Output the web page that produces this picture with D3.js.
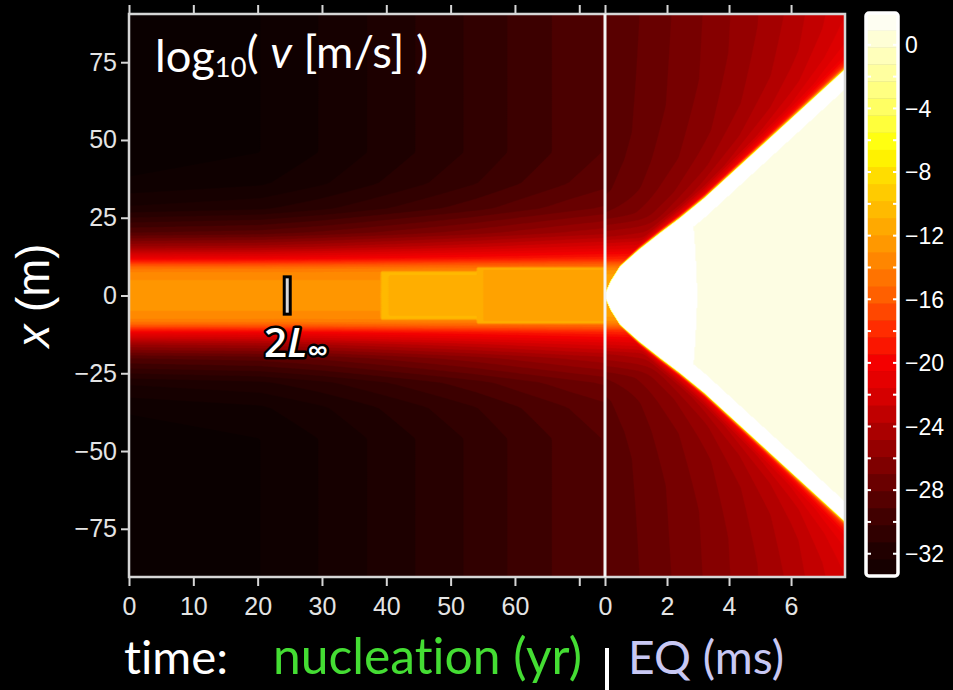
<!DOCTYPE html>
<html>
<head>
<meta charset="utf-8">
<script src="https://cdn.jsdelivr.net/npm/d3@7"></script>
<style>
  html, body { margin: 0; padding: 0; background: #000; }
  svg { display: block; }
  text { font-variant-ligatures: none; font-feature-settings: "liga" 0, "clig" 0; }
</style>
</head>
<body>
<svg id="chart" width="953" height="690"></svg>
<script>
// ---------- tick values ----------
const nucTicks = [0, 10, 20, 30, 40, 50, 60, 70];
const nucLabelled = [0, 10, 20, 30, 40, 50, 60];
const eqTicks = [0, 2, 4, 6];
const posTicks = [-75, -50, -25, 0, 25, 50, 75];
const cbLabelTicks = [0, -4, -8, -12, -16, -20, -24, -28, -32];
const cbMinorTicks = [0, -2, -4, -6, -8, -10, -12, -14, -16, -18, -20, -22, -24, -26, -28, -30, -32];

// ---------- nucleation phase (time in yr, position in m, log10 v) ----------
const nucTime = [0, 20.4, 30, 38, 46, 54, 61, 68.6, 74];
const nucFar = [-34.5, -34.0, -33.2, -32.4, -31.6, -30.8, -30.0, -29.2, -28.7];
const bandStart = [0, 39.3, 54];
const bandCore = [-13, -11.3, -11.8];
const bandHalfWidth = [9.5, 7.5, 9];
const bandRim = 0.7;          // brighter rim along the edge of each step
const profDist = [0, 5, 7, 8.5, 9.5, 10.5, 12, 15.5, 20, 28, 36, 46];
const profFrac = [1.03, 1.0, 0.98, 0.93, 0.86, 0.78, 0.64, 0.45, 0.27, 0.1, 0.03, 0];

// ---------- earthquake phase (time in ms) ----------
const eqTime = [0, 1, 2, 3, 4, 5, 6, 7, 7.74];
const eqFar = [-29, -28.4, -27.7, -27, -26.2, -25.4, -24.6, -23.6, -23];
const frontTime = [0, 0.2, 0.5, 1.1, 1.8, 2.4, 3.2, 4.9, 7.74];
const frontPos = [0, 4.5, 9.2, 14.5, 20, 24.5, 31, 46.5, 72.4];
const aheadDist = [0, 0.3, 0.8, 1.6, 3, 4.8, 10, 20, 40, 80];
const aheadFrac = [1, 0.6, 0.36, 0.22, 0.15, 0.1, 0.06, 0.03, 0.01, 0];
const frontPeak = 2.0;
const slipNearFront = 2.6;    // just behind the front
const slipInterior = 0.9;     // well behind the front, later times
const slipNearWidth = 6;      // m
const interiorPos = [0, 15, 30, 80];          // m
const interiorStart = [2.97, 2.9, 2.78, 2.7]; // ms

// ---------- colour map for log10 v ----------
const cmapStops = [-35, -34, -32, -30, -28, -26, -24, -22, -20, -18, -16, -14, -12, -10, -8, -6.5, -4, -2, 0, 1, 2];
const cmapColors = ["#060000", "#0c0000", "#1e0000", "#3a0000", "#600000", "#880000", "#b00000", "#d80000",
  "#f40000", "#ff2800", "#ff5a00", "#ff7f00", "#ffa000", "#ffbf00", "#ffe000", "#ffff00", "#ffff60",
  "#ffff99", "#ffffcc", "#fdfde6", "#ffffff"];
const color = d3.scaleLinear().domain(cmapStops).range(cmapColors).clamp(true).interpolate(d3.interpolateRgb);

const levelStep = 0.75;
const levels = d3.range(-35.5, 2.6, levelStep);

// ---------- layout ----------
const svg = d3.select("#chart");
const plot = { left: 129, right: 845, top: 14, bottom: 577, split: 605 };
const posDomain = [-90.5, 90.5];

const xNuc = d3.scaleLinear().domain([0, 74]).range([plot.left, plot.split]);
const xEq = d3.scaleLinear().domain([0, 7.74]).range([plot.split, plot.right]);
const y = d3.scaleLinear().domain(posDomain).range([plot.bottom, plot.top]);

// piecewise-linear lookups from the tabulated values
const farNuc = d3.scaleLinear().domain(nucTime).range(nucFar).clamp(true);
const profile = d3.scaleLinear().domain(profDist).range(profFrac).clamp(true);
const farEq = d3.scaleLinear().domain(eqTime).range(eqFar).clamp(true);
const front = d3.scaleLinear().domain(frontTime).range(frontPos).clamp(true);
const ahead = d3.scaleLinear().domain(aheadDist).range(aheadFrac).clamp(true);
const interior = d3.scaleLinear().domain(interiorPos).range(interiorStart).clamp(true);

function bandIndex(t) {
  let k = 0;
  for (let i = 0; i < bandStart.length; i++) if (t >= bandStart[i]) k = i;
  return k;
}

function nucValue(t, x) {
  const bg = farNuc(t);
  const ax = Math.abs(x);
  let v = bg + (bandCore[0] - bg) * profile(ax);
  const k = bandIndex(t);
  if (k > 0 && ax < bandHalfWidth[k]) {
    const edge = Math.min(bandHalfWidth[k] - ax, (t - bandStart[k]) * 0.9);
    v = Math.max(v, bandCore[k] + (edge < 0.9 ? bandRim : 0));
  }
  return v;
}

const logSum = (a, b) => Math.max(a, b) + Math.log10(1 + Math.pow(10, -Math.abs(a - b)));

function eqValue(t, x) {
  const ax = Math.abs(x);
  const f = front(t);
  if (ax < f) {
    const e = f - ax;
    if (t < interior(ax) || e < slipNearWidth) return slipNearFront;
    return slipInterior;
  }
  const far = farEq(t);
  const base = far + (bandCore[2] - far) * profile(ax * bandHalfWidth[0] / bandHalfWidth[2]);
  const d = ax - f;
  const fr = far + (frontPeak - far) * ahead(d);
  return logSum(base, fr);
}

function fieldGrid(nx, ny, t0, t1, fn) {
  const vals = new Float64Array(nx * ny);
  for (let j = 0; j < ny; j++) {
    const x = posDomain[1] - (j + 0.5) / ny * (posDomain[1] - posDomain[0]);
    for (let i = 0; i < nx; i++) {
      const t = t0 + (i + 0.5) / nx * (t1 - t0);
      vals[j * nx + i] = fn(t, x);
    }
  }
  return vals;
}

const defs = svg.append("defs");
defs.append("clipPath").attr("id", "clipNuc").append("rect")
  .attr("x", plot.left).attr("y", plot.top).attr("width", plot.split - plot.left).attr("height", plot.bottom - plot.top);
defs.append("clipPath").attr("id", "clipEq").append("rect")
  .attr("x", plot.split).attr("y", plot.top).attr("width", plot.right - plot.split).attr("height", plot.bottom - plot.top);

function drawField(clipId, xs, t0, t1, nx, ny, fn) {
  const vals = fieldGrid(nx, ny, t0, t1, fn);
  const contours = d3.contours().size([nx, ny]).thresholds(levels)(vals);
  const proj = d3.geoTransform({
    point(px, py) {
      this.stream.point(
        xs(t0 + px / nx * (t1 - t0)),
        y(posDomain[1] - py / ny * (posDomain[1] - posDomain[0]))
      );
    }
  });
  const path = d3.geoPath(proj);
  const g = svg.append("g").attr("clip-path", `url(#${clipId})`);
  g.append("rect")
    .attr("x", xs(t0)).attr("y", plot.top)
    .attr("width", xs(t1) - xs(t0)).attr("height", plot.bottom - plot.top)
    .attr("fill", color(levels[0] - levelStep / 2));
  g.selectAll("path").data(contours).join("path")
    .attr("d", path)
    .attr("fill", d => color(d.value + levelStep / 2))
    .attr("stroke", d => color(d.value + levelStep / 2))
    .attr("stroke-width", 0.4);
}

drawField("clipNuc", xNuc, 0, 74, 238, 282, nucValue);
drawField("clipEq", xEq, 0, 7.74, 240, 563, eqValue);

// ---------- frame and divider ----------
svg.append("rect")
  .attr("x", plot.left).attr("y", plot.top)
  .attr("width", plot.right - plot.left).attr("height", plot.bottom - plot.top)
  .attr("fill", "none").attr("stroke", "#d6d6d6").attr("stroke-width", 2.5);
svg.append("line")
  .attr("x1", plot.split).attr("x2", plot.split).attr("y1", plot.top).attr("y2", plot.bottom)
  .attr("stroke", "#f4f4f4").attr("stroke-width", 3);

// ---------- axes ----------
const tickFont = "'Liberation Sans', Arial, sans-serif";
function styleAxis(g) {
  g.select(".domain").remove();
  g.selectAll(".tick line").attr("stroke", "#d6d6d6").attr("stroke-width", 2);
  g.selectAll(".tick text").attr("fill", "#e4e4e4").style("font-family", tickFont).style("font-size", "25px");
}

svg.append("g").attr("transform", `translate(0,${plot.bottom})`)
  .call(d3.axisBottom(xNuc).tickValues(nucTicks).tickSize(9).tickPadding(11)
    .tickFormat(d => nucLabelled.includes(d) ? d : ""))
  .call(styleAxis);
svg.append("g").attr("transform", `translate(0,${plot.bottom})`)
  .call(d3.axisBottom(xEq).tickValues(eqTicks).tickSize(9).tickPadding(11))
  .call(styleAxis);
svg.append("g").attr("transform", `translate(0,${plot.top})`)
  .call(d3.axisTop(xNuc).tickValues(nucTicks).tickSize(9).tickFormat(""))
  .call(styleAxis);
svg.append("g").attr("transform", `translate(0,${plot.top})`)
  .call(d3.axisTop(xEq).tickValues(eqTicks).tickSize(9).tickFormat(""))
  .call(styleAxis);
svg.append("g").attr("transform", `translate(${plot.left},0)`)
  .call(d3.axisLeft(y).tickValues(posTicks).tickSize(8).tickPadding(4))
  .call(styleAxis);

// scale a text element's font so it spans the given width
function fitWidth(sel, width) {
  const node = sel.node();
  const base = parseFloat(sel.style("font-size"));
  const w = node.getComputedTextLength();
  sel.style("font-size", (base * width / w).toFixed(2) + "px");
  return sel;
}

const humanist = "Lato, 'Open Sans', sans-serif";

// ---------- 2L∞ marker ----------
const markT = 24.6, markHalf = 6;
svg.append("rect")
  .attr("x", xNuc(markT) - 3).attr("y", y(markHalf))
  .attr("width", 6).attr("height", y(-markHalf) - y(markHalf))
  .attr("fill", "#d8d8d8").attr("stroke", "#000").attr("stroke-width", 3);
const mark = svg.append("text")
  .attr("x", 264).attr("y", 357)
  .attr("fill", "#fff").attr("stroke", "#000").attr("stroke-width", 5)
  .attr("paint-order", "stroke").attr("stroke-linejoin", "round")
  .style("font-family", "'Open Sans', 'Noto Sans', sans-serif").style("font-weight", 600).style("font-size", "40px");
mark.append("tspan").text("2");
mark.append("tspan").style("font-style", "italic").text("L");
mark.append("tspan").attr("dy", "0.12em").style("font-size", "0.72em").text("∞");
fitWidth(mark, 64);

// ---------- title ----------
const title = svg.append("text").attr("x", 155).attr("y", 72).attr("fill", "#fff")
  .style("font-family", humanist).style("font-size", "44px");
title.append("tspan").text("log");
title.append("tspan").attr("dy", "0.2em").style("font-size", "0.6em").text("10");
title.append("tspan").attr("dy", "-0.2em").text("( ");
title.append("tspan").style("font-style", "italic").text("v");
title.append("tspan").text(" [m/s] )");
fitWidth(title, 273);

// ---------- position label ----------
const yl = svg.append("text")
  .attr("transform", `translate(49,${y(0)}) rotate(-90)`)
  .attr("text-anchor", "middle").attr("fill", "#fff")
  .style("font-family", "'Liberation Sans', Arial, sans-serif").style("font-size", "40px");
yl.append("tspan").style("font-style", "italic").text("x");
yl.append("tspan").text(" (m)");
fitWidth(yl, 104);

// ---------- time labels ----------
const lblY = 674;
fitWidth(svg.append("text").attr("x", 124).attr("y", lblY).attr("fill", "#fff")
  .style("font-family", humanist).style("font-size", "40px").text("time:"), 104);
fitWidth(svg.append("text").attr("x", 273).attr("y", lblY).attr("fill", "#44dd33")
  .style("font-family", humanist).style("font-size", "40px").text("nucleation (yr)"), 309);
svg.append("line").attr("x1", 607).attr("x2", 607).attr("y1", 648).attr("y2", 690)
  .attr("stroke", "#fff").attr("stroke-width", 4);
fitWidth(svg.append("text").attr("x", 628).attr("y", lblY).attr("fill", "#c8c8f4")
  .style("font-family", humanist).style("font-size", "40px").text("EQ (ms)"), 156);

// ---------- colour bar ----------
const cb = { x: 866, y: 13, w: 32, h: 563 };
const cbDomain = [-33.4, 2];
const cbScale = d3.scaleLinear().domain(cbDomain).range([cb.y + cb.h, cb.y]);
const cbBands = 33;
const cbEdges = d3.range(cbBands + 1).map(i => cbDomain[0] + i * (cbDomain[1] - cbDomain[0]) / cbBands);
svg.append("g").selectAll("rect").data(d3.pairs(cbEdges)).join("rect")
  .attr("x", cb.x).attr("width", cb.w)
  .attr("y", d => cbScale(d[1])).attr("height", d => cbScale(d[0]) - cbScale(d[1]) + 0.5)
  .attr("fill", d => color((d[0] + d[1]) / 2));
const cbTickG = svg.append("g");
cbTickG.selectAll("line.l").data(cbMinorTicks).join("line").attr("class", "l")
  .attr("x1", cb.x).attr("x2", cb.x + 5).attr("y1", d => cbScale(d)).attr("y2", d => cbScale(d))
  .attr("stroke", "#fff").attr("stroke-width", 2);
cbTickG.selectAll("line.r").data(cbMinorTicks).join("line").attr("class", "r")
  .attr("x1", cb.x + cb.w - 5).attr("x2", cb.x + cb.w).attr("y1", d => cbScale(d)).attr("y2", d => cbScale(d))
  .attr("stroke", "#fff").attr("stroke-width", 2);
svg.append("rect").attr("x", cb.x).attr("y", cb.y).attr("width", cb.w).attr("height", cb.h)
  .attr("rx", 3).attr("fill", "none").attr("stroke", "#fff").attr("stroke-width", 3.5);
svg.append("g").selectAll("text").data(cbLabelTicks).join("text")
  .attr("x", 905).attr("y", d => cbScale(d)).attr("dy", "0.36em")
  .attr("fill", "#fff")
  .style("font-family", "'Liberation Sans', Arial, sans-serif").style("font-size", "23px")
  .text(d => d === 0 ? "0" : "\u2212" + Math.abs(d));
</script>
</body>
</html>
